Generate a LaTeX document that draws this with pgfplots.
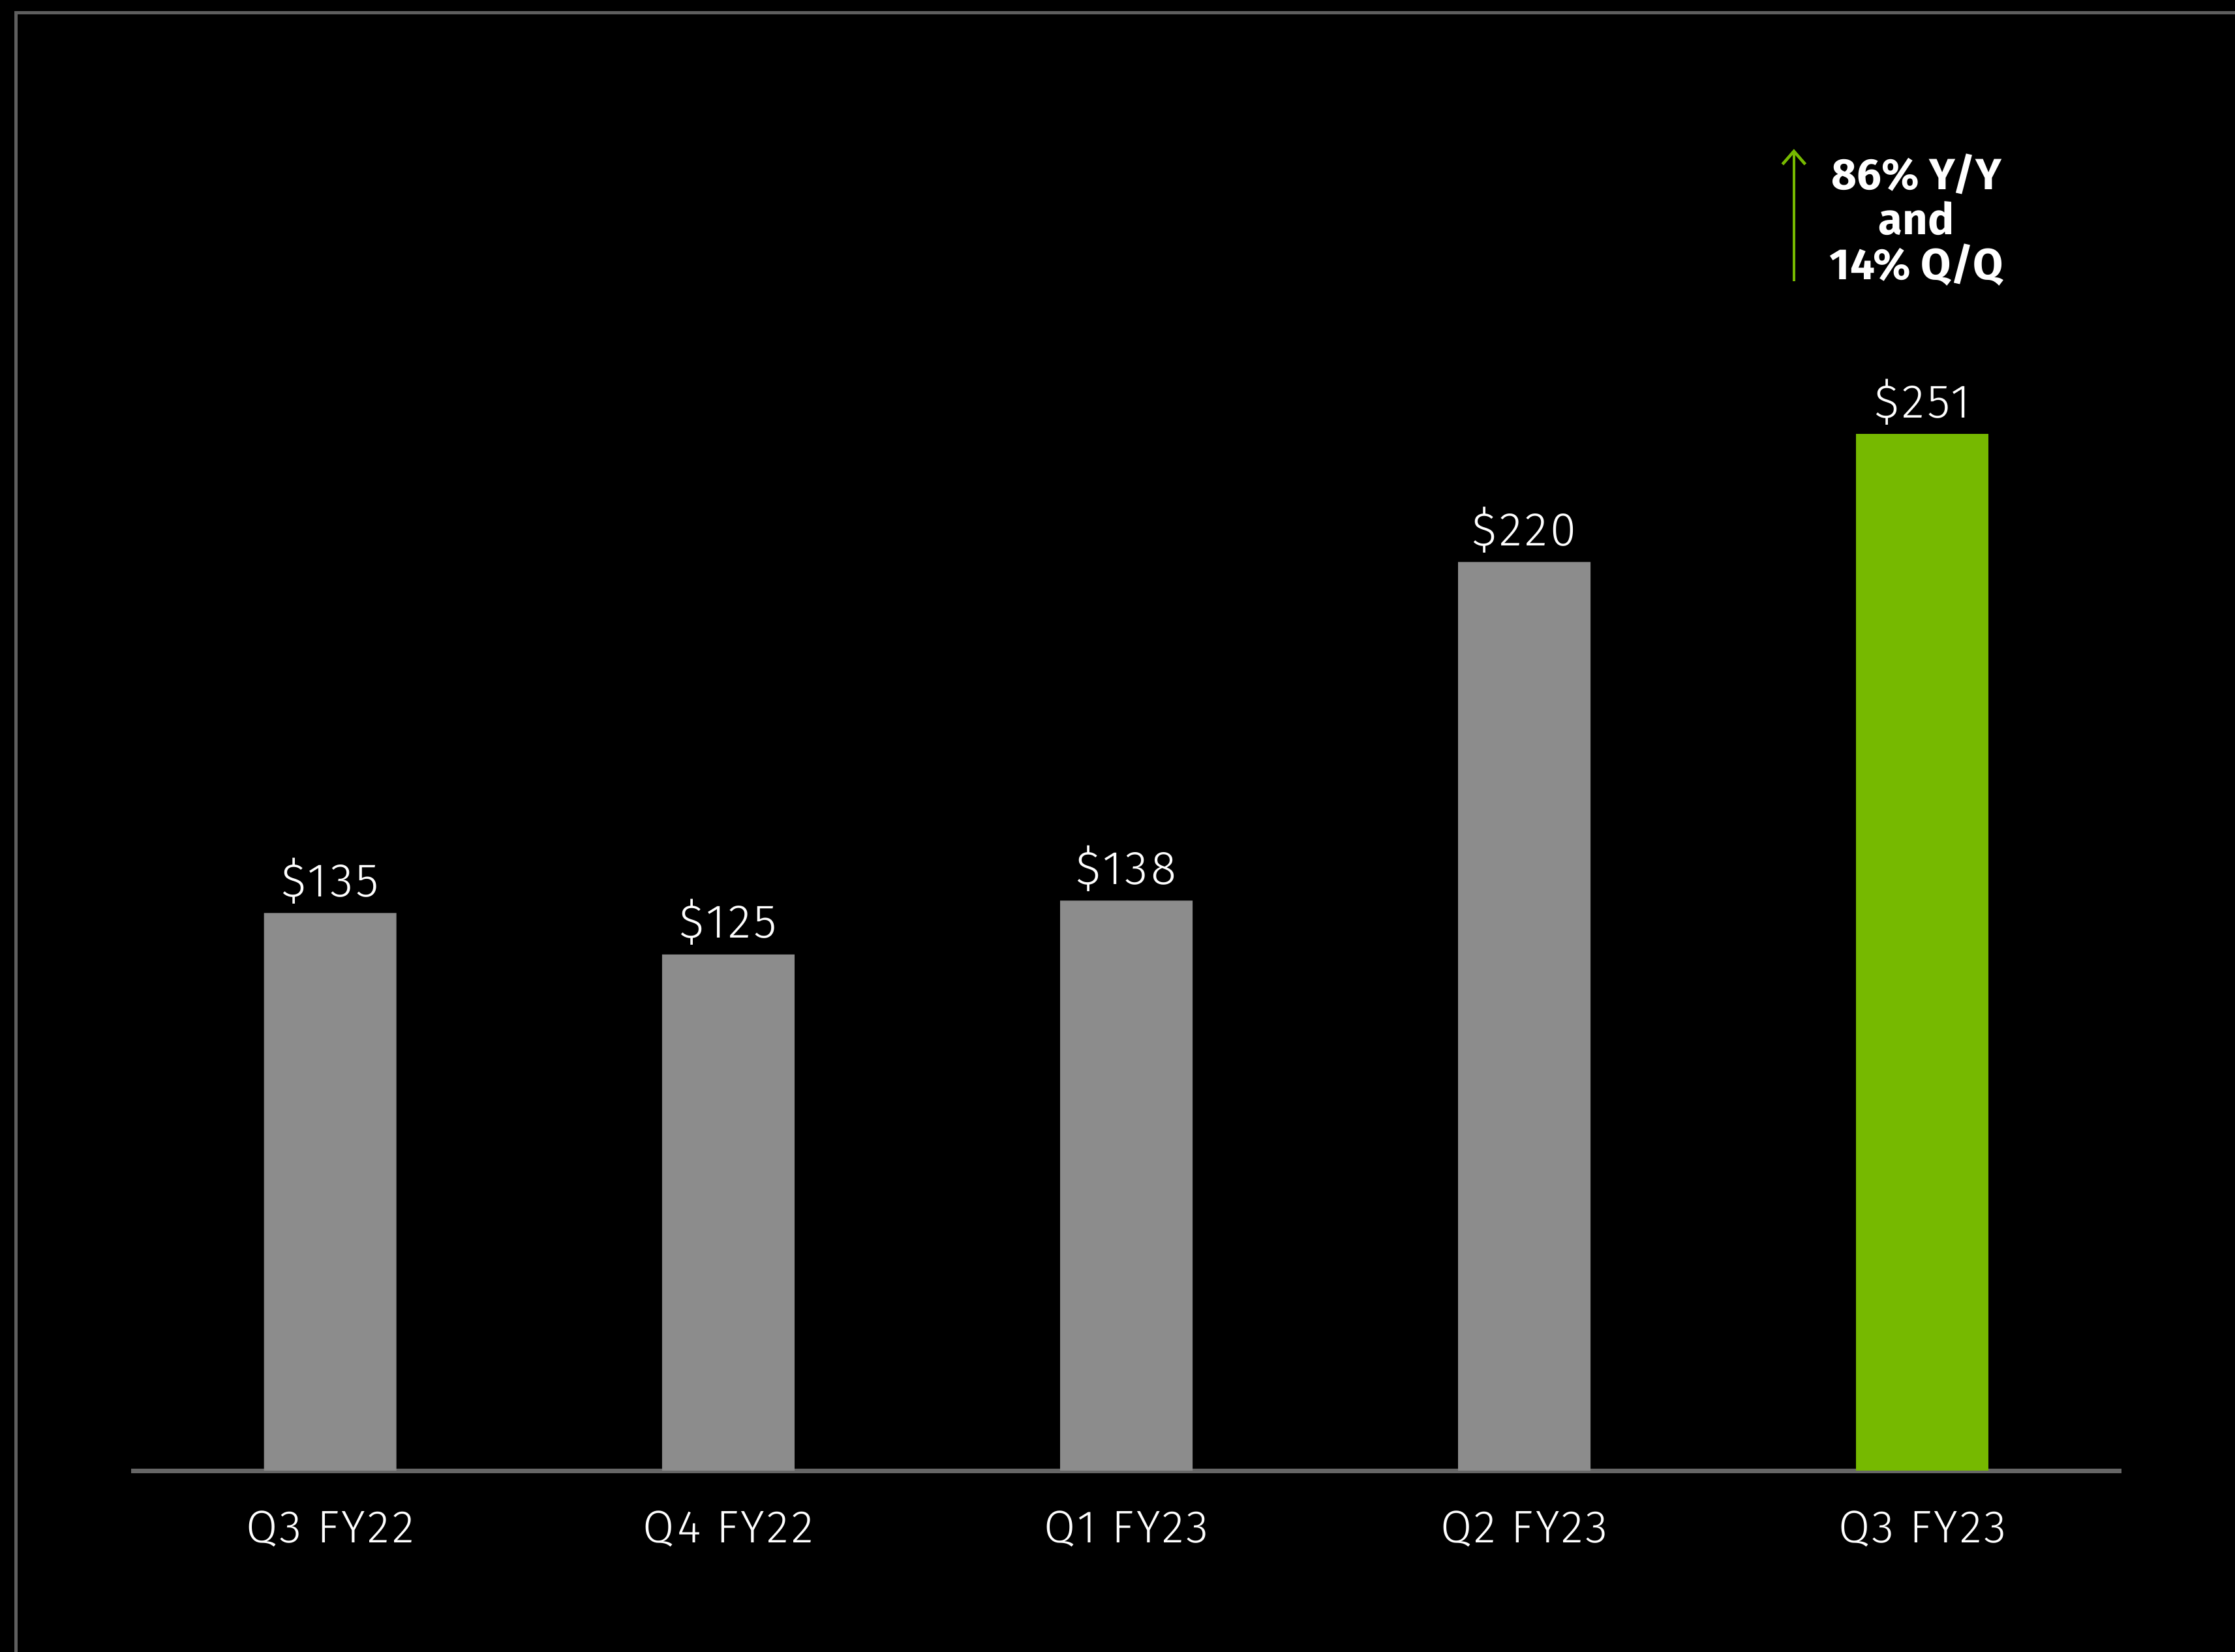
\documentclass[border=0pt]{standalone}
\usepackage{fontspec}
\setmainfont{Fira Sans}
\IfFontExistsTF{Fira Sans Light}{\newfontfamily\lightfont{Fira Sans Light}[LetterSpace=6]}{\newfontfamily\lightfont{Fira Sans}[LetterSpace=6]}
\newfontfamily\boldfont{Fira Sans Bold}
\usepackage{pgfplots}
\pgfplotsset{compat=1.18}
\usetikzlibrary{arrows.meta}
\definecolor{nvgreen}{HTML}{76B900}
\definecolor{bargray}{HTML}{8C8C8C}
\definecolor{framegray}{HTML}{5F5F5F}
\definecolor{axisgray}{HTML}{666666}

\begin{document}
\begin{tikzpicture}
% page size, background and open frame
\path[use as bounding box] (-40.2pt,-55.4pt) rectangle (645pt,450.8pt);
\fill[black] (-42pt,-58pt) rectangle (647pt,452pt);
\draw[framegray, line width=1pt] (-35.2pt,-58pt) -- (-35.2pt,446.8pt) -- (647pt,446.8pt);
\begin{axis}[
  at={(0,0)}, anchor=south west,
  scale only axis, width=610.2pt, height=443.1pt,
  xmin=-0.5, xmax=4.5, ymin=0, ymax=350,
  axis x line*=bottom, axis y line=none,
  x axis line style={axisgray, line width=1.4pt, -},
  xtick={0,...,4},
  xticklabels={Q3 FY22, Q4 FY22, Q1 FY23, Q2 FY23, Q3 FY23},
  ytick=\empty,
  major tick length=0pt,
  xticklabel style={anchor=base, yshift=-22pt, text=white, font=\lightfont\fontsize{14}{16}\selectfont},
  ybar, bar width=40.6pt, bar shift=0pt,
  nodes near coords={\$\pgfmathprintnumber{\pgfplotspointmeta}},
  nodes near coords style={anchor=base, yshift=5pt, text=white, font=\lightfont\fontsize{14.5}{16}\selectfont},
  /pgf/number format/assume math mode=true,
]
\addplot[fill=bargray, draw=none] table {
x y
0 135
1 125
2 138
3 220
};
\addplot[fill=nvgreen, draw=none] table {
x y
4 251
};
\draw[nvgreen, line width=0.9pt, -{Straight Barb[length=4pt,width=7pt]}]
  (axis cs:3.677,288) -- (axis cs:3.677,320);
\node[text=white, align=center, font=\boldfont\fontsize{13.4}{13.8}\selectfont]
  at (axis cs:3.985,302.8) {86\% Y/Y\\and\\14\% Q/Q};
\end{axis}
\end{tikzpicture}
\end{document}
